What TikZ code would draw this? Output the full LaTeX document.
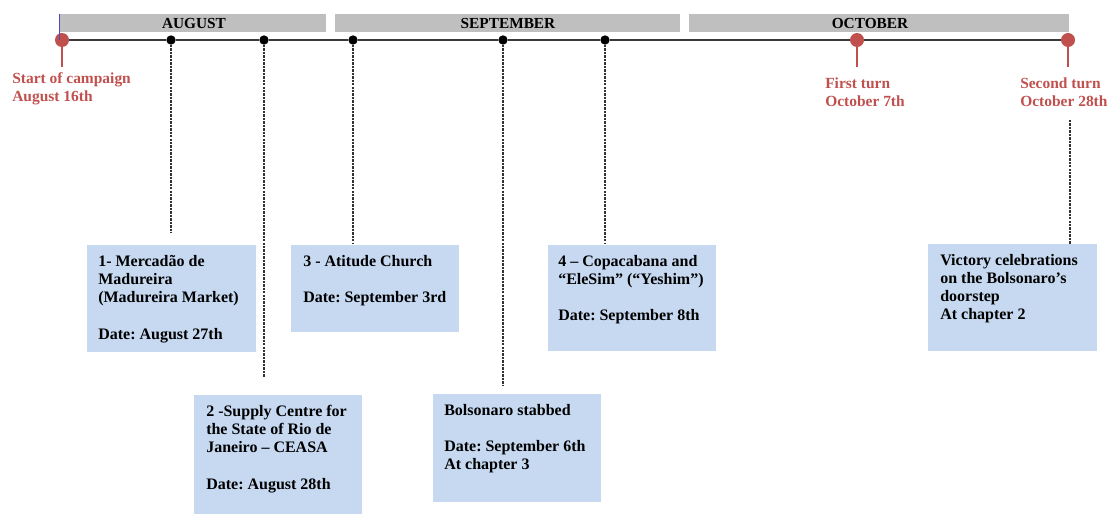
\documentclass[tikz,border=0pt]{standalone}
\usepackage{fontspec}
\setmainfont{Liberation Serif}
\usetikzlibrary{calc}
\definecolor{boxblue}{HTML}{C6D9F1}
\definecolor{tlred}{HTML}{C0504D}
\definecolor{bargrey}{HTML}{BFBFBF}
\definecolor{tlline}{HTML}{3A3A3A}
\definecolor{dashgrey}{HTML}{333333}
\frenchspacing
\begin{document}
\begin{tikzpicture}[x=0.75pt,y=-0.75pt,
  monthbar/.style={fill=bargrey, draw=none, inner sep=0, minimum height=13.5pt},
  monthtxt/.style={font=\bfseries\fontsize{11.5}{13}\selectfont, inner sep=0},
  reddot/.style={circle, fill=tlred, inner sep=0, minimum size=10.5pt},
  blackdot/.style={circle, fill=black, inner sep=0, minimum size=7pt},
  stem/.style={draw=tlred, line width=1.1pt},
  timeline/.style={draw=tlline, line width=1.5pt},
  guide/.style={draw=dashgrey, line width=0.9pt, dash pattern=on 1.8pt off 0.8pt},
  redtxt/.style={text=tlred, font=\bfseries\fontsize{11.6}{13.5}\selectfont, align=left, anchor=north west, inner sep=0},
  infobox/.style={fill=boxblue, draw=none, inner sep=0, anchor=north west},
  infotxt/.style={font=\bfseries\fontsize{12}{13.7}\selectfont, align=left, anchor=north west, inner sep=0},
]
\useasboundingbox (0,0) rectangle (1109,514);

% month bars
\node[monthbar, minimum width=199.5pt] (aug) at (193,23) {};
\node[monthbar, minimum width=258.75pt] (sep) at (507.5,23) {};
\node[monthbar, minimum width=285pt] (oct) at (879,23) {};
\node[monthtxt] (augt) at (194,23) {AUGUST};
\node[monthtxt] (sept) at (508,23) {SEPTEMBER};
\node[monthtxt] (octt) at (870,23) {OCTOBER};

% info boxes
\node[infobox, minimum width=126.75pt, minimum height=80.25pt] (b1) at (87,245) {};
\node[infobox, minimum width=126pt, minimum height=65.25pt] (b3) at (291,245) {};
\node[infobox, minimum width=126pt, minimum height=89.25pt] (b2) at (194,395) {};
\node[infobox, minimum width=126pt, minimum height=81pt] (b5) at (433,394) {};
\node[infobox, minimum width=126pt, minimum height=79.5pt] (b4) at (548,245) {};
\node[infobox, minimum width=126.75pt, minimum height=80.25pt] (b6) at (928,244) {};

% dots
\node[reddot] (s) at (62,40) {};
\node[reddot] (t1) at (857,40) {};
\node[reddot] (t2) at (1068,40) {};
\node[blackdot] (d1) at (171,40) {};
\node[blackdot] (d2) at (264,40) {};
\node[blackdot] (d3) at (353,40) {};
\node[blackdot] (d4) at (503,40) {};
\node[blackdot] (d5) at (605,40) {};

% timeline (drawn behind dots)
\begin{scope}[on background layer/.style={}]
\end{scope}
\draw[timeline] (s) -- (d1) -- (d2) -- (d3) -- (d4) -- (d5) -- (t1) -- (t2);
\draw[draw=gray!60!blue, line width=0.4pt] (aug.north west) -- (aug.north west |- s);

% guide line ends
\coordinate (g1) at (171,233);
\coordinate (g2) at (264,377);
\coordinate (g3) at (353,243);
\coordinate (g4) at (503,386);
\coordinate (g5) at (605,243);
\coordinate (g6) at (1070,120);

% dashed guides
\draw[guide] (d1) -- (g1);
\draw[guide] (d2) -- (g2);
\draw[guide] (d3) -- (g3);
\draw[guide] (d4) -- (g4);
\draw[guide] (d5) -- (g5);
\draw[guide] (g6) -- (b6.north -| g6);

% red stems and labels
\coordinate (se) at (62,67);
\coordinate (t1e) at (857,67);
\coordinate (t2e) at (1068,67);
\draw[stem] (s) -- (se);
\draw[stem] (t1) -- (t1e);
\draw[stem] (t2) -- (t2e);
\node[redtxt] (ls) at (12,70.5) {\strut Start of campaign\\August 16th};
\node[redtxt] (l1) at (825,75.5) {\strut First turn\\October 7th};
\node[redtxt] (l2) at (1020,75.5) {\strut Second turn\\October 28th};

% box texts
\node[infotxt] (x1) at ($(b1.north west)+(11,8)$) {\strut 1- Mercadão de\\Madureira\\(Madureira Market)\\[13.7pt]Date: August 27th};
\node[infotxt] (x3) at ($(b3.north west)+(12,8)$) {\strut 3 - Atitude Church\\[13.7pt]Date: September 3rd};
\node[infotxt] (x2) at ($(b2.north west)+(12,8)$) {\strut 2 -Supply Centre for\\the State of Rio de\\Janeiro – CEASA\\[13.7pt]Date: August 28th};
\node[infotxt] (x5) at ($(b5.north west)+(11,8)$) {\strut Bolsonaro stabbed\\[13.7pt]Date: September 6th\\At chapter 3};
\node[infotxt] (x4) at ($(b4.north west)+(10,8)$) {\strut 4 – Copacabana and\\“EleSim” (“Yeshim”)\\[13.7pt]Date: September 8th};
\node[infotxt] (x6) at ($(b6.north west)+(12,8)$) {\strut Victory celebrations\\on the Bolsonaro’s\\doorstep\\At chapter 2};
\end{tikzpicture}
\end{document}
